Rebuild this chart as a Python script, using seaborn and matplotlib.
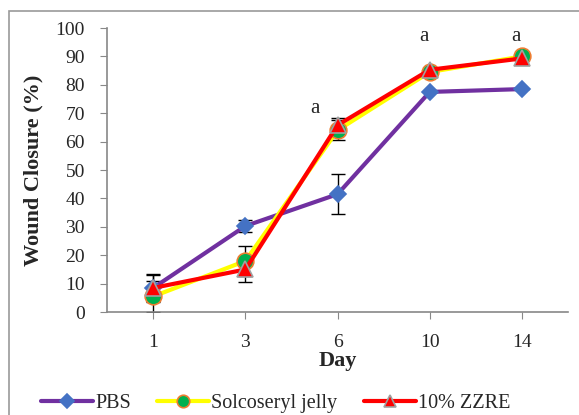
import matplotlib
matplotlib.use("Agg")
import matplotlib.pyplot as plt
from matplotlib.patches import Rectangle
import seaborn as sns
import pandas as pd
import numpy as np

days = ["1", "3", "6", "10", "14"]

pbs = [8.5, 30.3, 41.5, 77.5, 78.5]
pbs_err = [4.5, 2.1, 7.0, 0.0, 0.0]

solco = [5.5, 18.0, 64.0, 84.5, 90.0]
solco_err = [5.5, 5.3, 3.5, 0.0, 0.0]

zzre = [8.5, 15.0, 65.8, 85.3, 89.3]
zzre_err = [5.0, 4.5, 2.5, 0.0, 0.0]

sig_labels = ["", "", "a", "a", "a"]

sns.set_style("white")
plt.rcParams["font.family"] = ["Liberation Serif", "DejaVu Serif"]

fig = plt.figure(figsize=(5.79, 4.15), dpi=100)
ax = fig.add_axes([0.185, 0.248, 0.796, 0.6845])

x = np.arange(len(days))
series = [
    ("PBS", pbs, pbs_err, "#7030A0", "D", "#4472C4", "#4472C4", 8),
    ("Solcoseryl jelly", solco, solco_err, "#FFFF00", "o", "#00B050", "#ED7D31", 12),
    ("10% ZZRE", zzre, zzre_err, "#FF0000", "^", "#FF0000", "#A0A0A0", 12),
]

for name, vals, errs, lc, mk, mfc, mec, ms in series:
    ax.errorbar(x, vals, yerr=errs, fmt="none", ecolor="black", elinewidth=1,
                capsize=5, capthick=1, zorder=2)

for name, vals, errs, lc, mk, mfc, mec, ms in series:
    df = pd.DataFrame({"x": x, "y": vals})
    sns.lineplot(data=df, x="x", y="y", ax=ax, color=lc, linewidth=3,
                 marker=mk, markersize=ms, markerfacecolor=mfc,
                 markeredgecolor=mec, markeredgewidth=1.2, label=name,
                 zorder=3)

# significance letters
for i, lab in enumerate(sig_labels):
    if not lab:
        continue
    if i == 2:
        ax.text(i - 0.25, 71.5, lab, fontsize=15, ha="center", va="center")
    else:
        ax.text(i - 0.06, 97, lab, fontsize=15, ha="center", va="center")

ax.set_xlim(-0.5, 4.5)
ax.set_ylim(0, 100)
ax.set_xticks(x)
ax.set_xticklabels(days)
ax.set_yticks(np.arange(0, 101, 10))
ax.tick_params(axis="both", labelsize=14, length=5, color="#888888",
               direction="out", left=True, bottom=True)
ax.tick_params(axis="y", pad=11)
ax.tick_params(axis="x", pad=11)
ax.set_xlabel("Day", fontsize=16, fontweight="bold", labelpad=0)
ax.set_ylabel("Wound Closure (%)", fontsize=16, fontweight="bold", labelpad=9)

for s in ["top", "right"]:
    ax.spines[s].set_visible(False)
for s in ["left", "bottom"]:
    ax.spines[s].set_color("#888888")
    ax.spines[s].set_linewidth(1.2)

ax.legend_.remove()
handles, labels = ax.get_legend_handles_labels()
leg = fig.legend(handles, labels, loc="center", ncol=3, frameon=False,
                 fontsize=14.5, bbox_to_anchor=(0.476, 1 - 403 / 415),
                 handlelength=2.6, columnspacing=1.3, handletextpad=0.1)
for h, ms in zip(leg.legend_handles, [7, 9, 9]):
    h.set_markersize(ms)

fig.add_artist(Rectangle((9 / 579, -0.1), 1.2, 1 - 11 / 415 + 0.1,
                         transform=fig.transFigure, fill=False,
                         edgecolor="#999999", linewidth=1.2))

fig.savefig("out.png", dpi=100)
